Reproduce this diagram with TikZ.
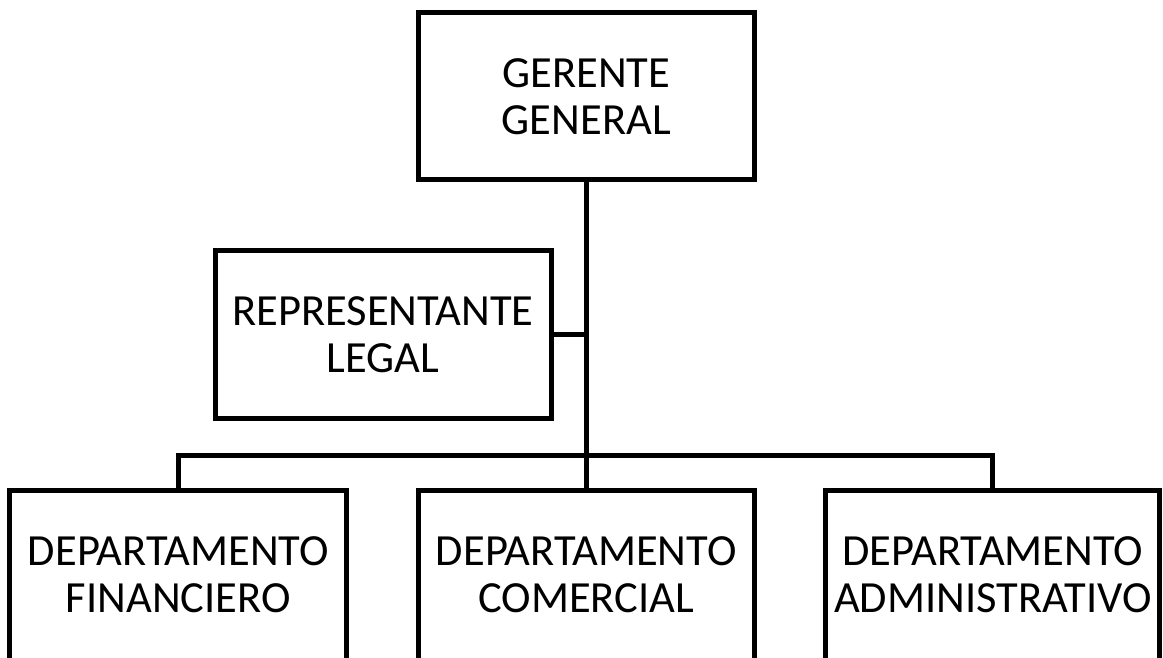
\documentclass[tikz,border=0pt]{standalone}
\usepackage{fontspec}
\setmainfont{Carlito}
\begin{document}
\begin{tikzpicture}[x=1pt,y=-1pt,
  box/.style={draw=black,line width=5pt,align=center,inner sep=0pt,
    font=\fontsize{44.5}{47}\selectfont,minimum height=167.5pt},
  link/.style={draw=black,line width=5pt}]
\useasboundingbox (0,0) rectangle (1163,658);
\clip (0,0) rectangle (1163,658);
\node[box,minimum width=335.5pt] (gg) at (586.25,96.25) {GERENTE\\GENERAL};
\node[box,minimum width=336pt,minimum height=167.3pt] (rl) at (383,334.4) {REPRESENTANTE\\LEGAL};
\node[box,minimum width=336.7pt,minimum height=170pt] (df) at (178.3,575) {DEPARTAMENTO\\FINANCIERO};
\node[box,minimum width=336pt,minimum height=170pt] (dc) at (586.25,575) {DEPARTAMENTO\\COMERCIAL};
\node[box,minimum width=334.3pt,minimum height=170pt] (da) at (992.8,575) {DEPARTAMENTO\\ADMINISTRATIVO};
\coordinate (bar) at (586.25,455);
\draw[link] (gg.south) -- (dc.north);
\draw[link] (rl.east) -- (rl.east -| gg.south);
\draw[link] (df.north) -- (df.north |- bar) -- (da.north |- bar) -- (da.north);
\end{tikzpicture}
\end{document}
